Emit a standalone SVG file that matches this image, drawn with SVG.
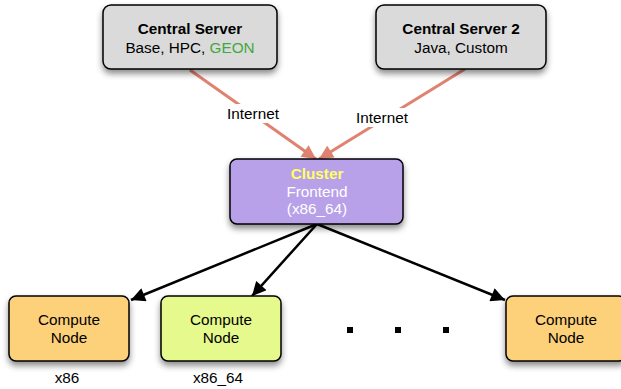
<svg xmlns="http://www.w3.org/2000/svg" width="621" height="389" viewBox="0 0 621 389">
<defs>
<filter id="sh" x="-20%" y="-20%" width="140%" height="160%">
<feDropShadow dx="0" dy="4" stdDeviation="3" flood-color="#000" flood-opacity="0.45"/>
</filter>
<marker id="ab" viewBox="0 0 10 10" refX="10" refY="5" markerWidth="16" markerHeight="14" orient="auto" markerUnits="userSpaceOnUse">
<path d="M0,0 L10,5 L0,10 z" fill="#000"/>
</marker>
<marker id="arr" viewBox="0 0 10 10" refX="10" refY="5" markerWidth="16" markerHeight="14" orient="auto" markerUnits="userSpaceOnUse">
<path d="M0,0 L10,5 L0,10 z" fill="#e08270"/>
</marker>
</defs>
<style>
.box{stroke:#000;stroke-width:1.5;filter:url(#sh)}
text{font-family:"Liberation Sans",Arial,sans-serif;font-size:15.3px;text-anchor:middle;fill:#000}
.b{font-weight:bold}
.red{stroke:#e08270;stroke-width:3;fill:none;marker-end:url(#arr)}
.blk{stroke:#000;stroke-width:2.5;fill:none;marker-end:url(#ab)}
.lbl{fill:#fff}
</style>
<g id="connectors">
<line class="red" x1="190" y1="70" x2="316" y2="159"/>
<line class="red" x1="465" y1="69" x2="319" y2="159"/>
<line class="blk" x1="317" y1="224" x2="131" y2="300"/>
<line class="blk" x1="317" y1="224" x2="252" y2="296"/>
<line class="blk" x1="317" y1="224" x2="505" y2="300"/>
<rect class="lbl" x="223" y="104" width="60" height="19"/>
<text x="253" y="119">Internet</text>
<rect class="lbl" x="352" y="108" width="60" height="19"/>
<text x="382" y="123">Internet</text>
</g>
<g id="central-server">
<rect class="box" x="103" y="5" width="174" height="64" rx="8" fill="#dadada"/>
<text class="b" x="190" y="34">Central Server</text>
<text x="190" y="53">Base, HPC, <tspan fill="#3fa83f">GEON</tspan></text>
</g>
<g id="central-server-2">
<rect class="box" x="376" y="5" width="170" height="64" rx="8" fill="#dadada"/>
<text class="b" x="461" y="34">Central Server 2</text>
<text x="461" y="53">Java, Custom</text>
</g>
<g id="cluster">
<rect class="box" x="230" y="159" width="173" height="65" rx="7" fill="#b8a1e9"/>
<text class="b" x="317" y="179" style="fill:#ffff66">Cluster</text>
<text x="317" y="197" style="fill:#fff">Frontend</text>
<text x="317" y="214" style="fill:#fff">(x86_64)</text>
</g>
<g id="compute-1">
<rect class="box" x="9" y="296" width="120" height="65" rx="7" fill="#fdd17a"/>
<text x="69" y="325">Compute</text>
<text x="69" y="343">Node</text>
<text x="67" y="383">x86</text>
</g>
<g id="compute-2">
<rect class="box" x="161" y="296" width="120" height="65" rx="7" fill="#e6f98d"/>
<text x="221" y="325">Compute</text>
<text x="221" y="343">Node</text>
<text x="218" y="383">x86_64</text>
</g>
<g id="compute-3">
<rect class="box" x="506" y="296" width="120" height="65" rx="7" fill="#fdd17a"/>
<text x="566" y="325">Compute</text>
<text x="566" y="343">Node</text>
</g>
<g id="dots">
<rect x="347" y="327" width="6" height="6" fill="#000"/>
<rect x="395" y="327" width="6" height="6" fill="#000"/>
<rect x="443" y="327" width="6" height="6" fill="#000"/>
</g>
</svg>
